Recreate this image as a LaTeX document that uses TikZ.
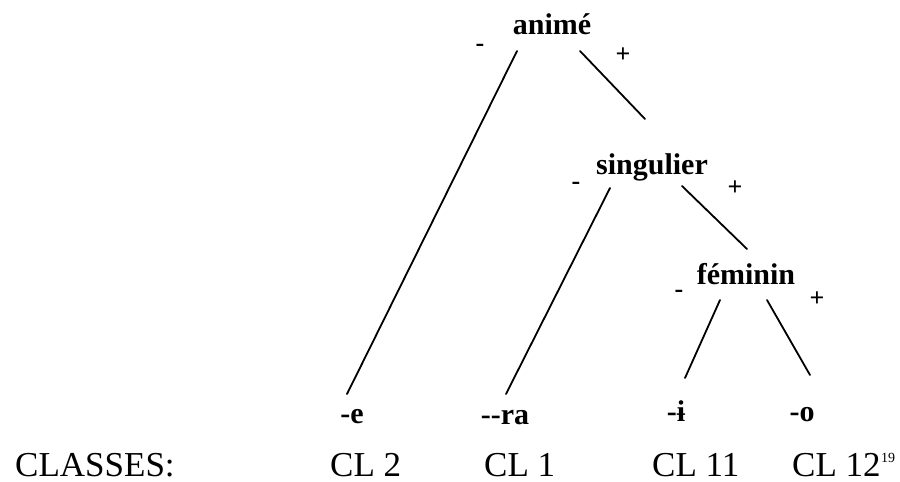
\documentclass[tikz,border=0pt]{standalone}
\usepackage{fontspec}
\setmainfont{Liberation Serif}
\tikzset{
  lab/.style={font=\bfseries\fontsize{30}{30}\selectfont, inner sep=0pt, anchor=base},
  sgn/.style={font=\bfseries\fontsize{26}{26}\selectfont, inner sep=0pt},
  cls/.style={font=\fontsize{35}{35}\selectfont, inner sep=0pt, anchor=base west},
  branch/.style={line width=1.8pt, line cap=round}
}
\begin{document}
\begin{tikzpicture}[x=1pt,y=-1pt]
\useasboundingbox[fill=white] (0,0) rectangle (900,482);
% labels
\node[lab] (anime) at (552,34) {animé};
\node[lab] (sing) at (652,174) {singulier};
\node[lab] (fem) at (746,284) {féminin};
\node[lab] (le) at (352,423) {-e};
\node[lab] (lra) at (505,424) {-{}-ra};
\node[lab] (li) at (676,421) {-ɨ};
\node[lab] (lo) at (802,421) {-o};
% signs
\node[sgn] (am) at (480,48) {-};
\node[sgn] (ap) at (623,55) {+};
\node[sgn] (sm) at (576,186) {-};
\node[sgn] (sp) at (735,188) {+};
\node[sgn] (fm) at (679,294) {-};
\node[sgn] (fp) at (817,299) {+};
% connector ends
\coordinate (a1) at (517,51);  \coordinate (e1) at (347,394);
\coordinate (a2) at (580,51);  \coordinate (s0) at (645,119);
\coordinate (s1) at (610,188); \coordinate (r1) at (506,394);
\coordinate (s2) at (682,186); \coordinate (f0) at (747,249);
\coordinate (f1) at (720,300); \coordinate (i1) at (685,378);
\coordinate (f2) at (767,300); \coordinate (o1) at (810,375);
\draw[branch] (a1) -- (e1);
\draw[branch] (a2) -- (s0);
\draw[branch] (s1) -- (r1);
\draw[branch] (s2) -- (f0);
\draw[branch] (f1) -- (i1);
\draw[branch] (f2) -- (o1);
% classes
\node[cls] (classes) at (15,476) {CLASSES:};
\node[cls] (c2) at (330,476) {CL 2};
\node[cls] (c1) at (484,476) {CL 1};
\node[cls] (c11) at (652,476) {CL 11};
\node[cls] (c12) at (792,476) {CL 12};
\node[font=\fontsize{14}{14}\selectfont, inner sep=0pt, anchor=base west] (fn) at (c12.base east) [yshift=14pt] {19};
\end{tikzpicture}
\end{document}
